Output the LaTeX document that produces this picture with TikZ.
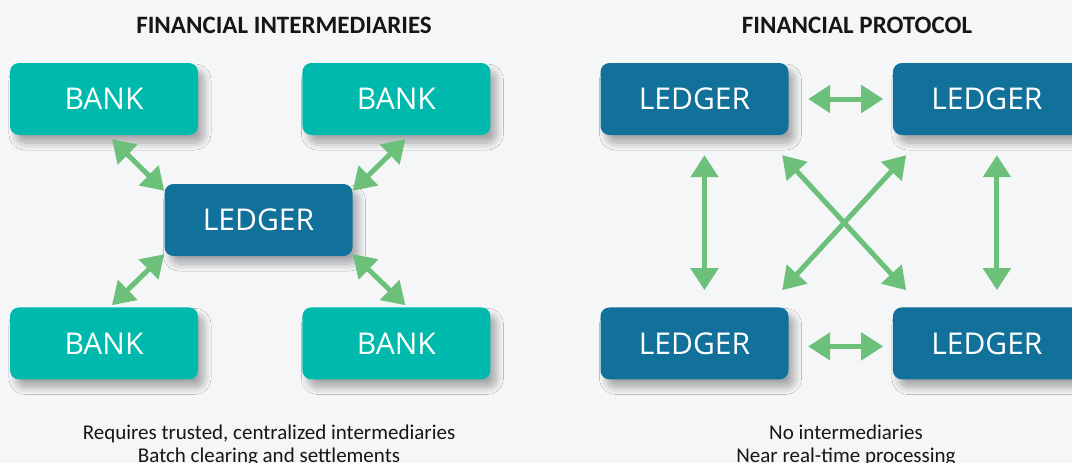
\documentclass[tikz,border=0pt]{standalone}
\usepackage{fontspec}
\setmainfont{Carlito}
\newfontfamily\boxfont{Open Sans}
\usetikzlibrary{arrows.meta}
\usetikzlibrary{positioning}
\usetikzlibrary{shadows.blur}
\definecolor{bankteal}{HTML}{00B9AD}
\definecolor{ledgerblue}{HTML}{11719A}
\definecolor{linkgreen}{HTML}{6CC07A}
\definecolor{pagegray}{HTML}{F5F6F8}
\definecolor{textdark}{HTML}{161616}
\tikzstyle{bank} = [rectangle, rounded corners=9pt, minimum width=188pt, minimum height=72pt, fill=bankteal, text=white, font=\boxfont\fontsize{30}{32}\selectfont, blur shadow={shadow xshift=6pt, shadow yshift=-8pt, shadow blur radius=7pt, shadow blur steps=12, shadow opacity=32}]
\tikzstyle{ledger} = [bank, fill=ledgerblue]
\tikzstyle{link} = [draw=linkgreen, line width=5pt, >={Triangle[length=22pt,width=27pt]}, <->]
\tikzstyle{heading} = [text=textdark, font=\bfseries\fontsize{25}{28}\selectfont]
\tikzstyle{caption} = [text=textdark, align=center, font=\fontsize{21}{23}\selectfont]

\begin{document}
\begin{tikzpicture}[x=1pt, y=-1pt, node distance=104pt]
 \useasboundingbox[fill=pagegray] (0,0) rectangle (1072,463);

 % intermediaries
 \node (lefttitle) [heading] at (284,25) {FINANCIAL INTERMEDIARIES};
 \node (b1) [bank] at (104,99) {BANK};
 \node (b2) [bank, right=of b1] {BANK};
 \node (b3) [bank, below=172pt of b1] {BANK};
 \node (b4) [bank, right=of b3] {BANK};
 \node (led) [ledger] at (258.5,220) {LEDGER};
 \node (leftnote) [caption] at (269,446) {Requires trusted, centralized intermediaries\\Batch clearing and settlements};

 \draw [link] ([xshift=8pt,yshift=-4pt]b1.south) -- ([yshift=-7pt]led.north west);
 \draw [link] ([xshift=9pt,yshift=-4pt]b2.south) -- ([yshift=-7pt]led.north east);
 \draw [link] ([xshift=8pt,yshift=2pt]b3.north) -- ([yshift=2pt]led.south west);
 \draw [link] ([xshift=9pt,yshift=2pt]b4.north) -- ([yshift=2pt]led.south east);

 % protocol
 \node (righttitle) [heading] at (857,25) {FINANCIAL PROTOCOL};
 \node (l1) [ledger] at (694.5,99) {LEDGER};
 \node (l2) [ledger, right=of l1] {LEDGER};
 \node (l3) [ledger, below=172pt of l1] {LEDGER};
 \node (l4) [ledger, right=of l3] {LEDGER};
 \node (rightnote) [caption] at (846,446) {No intermediaries\\Near real-time processing};

 \draw [link] ([xshift=19.5pt]l1.east) -- ([xshift=-9.5pt]l2.west);
 \draw [link] ([xshift=19.5pt,yshift=-3pt]l3.east) -- ([xshift=-9.5pt,yshift=-3pt]l4.west);
 \draw [link] ([xshift=10pt,yshift=-20pt]l1.south) -- ([xshift=10pt,yshift=17pt]l3.north);
 \draw [link] ([xshift=10pt,yshift=-20pt]l2.south) -- ([xshift=10pt,yshift=17pt]l4.north);
 \draw [link] ([xshift=-6.5pt,yshift=-20pt]l1.south east) -- ([xshift=13.5pt,yshift=17pt]l4.north west);
 \draw [link] ([xshift=13.5pt,yshift=-20pt]l2.south west) -- ([xshift=-6.5pt,yshift=17pt]l3.north east);
\end{tikzpicture}
\end{document}
